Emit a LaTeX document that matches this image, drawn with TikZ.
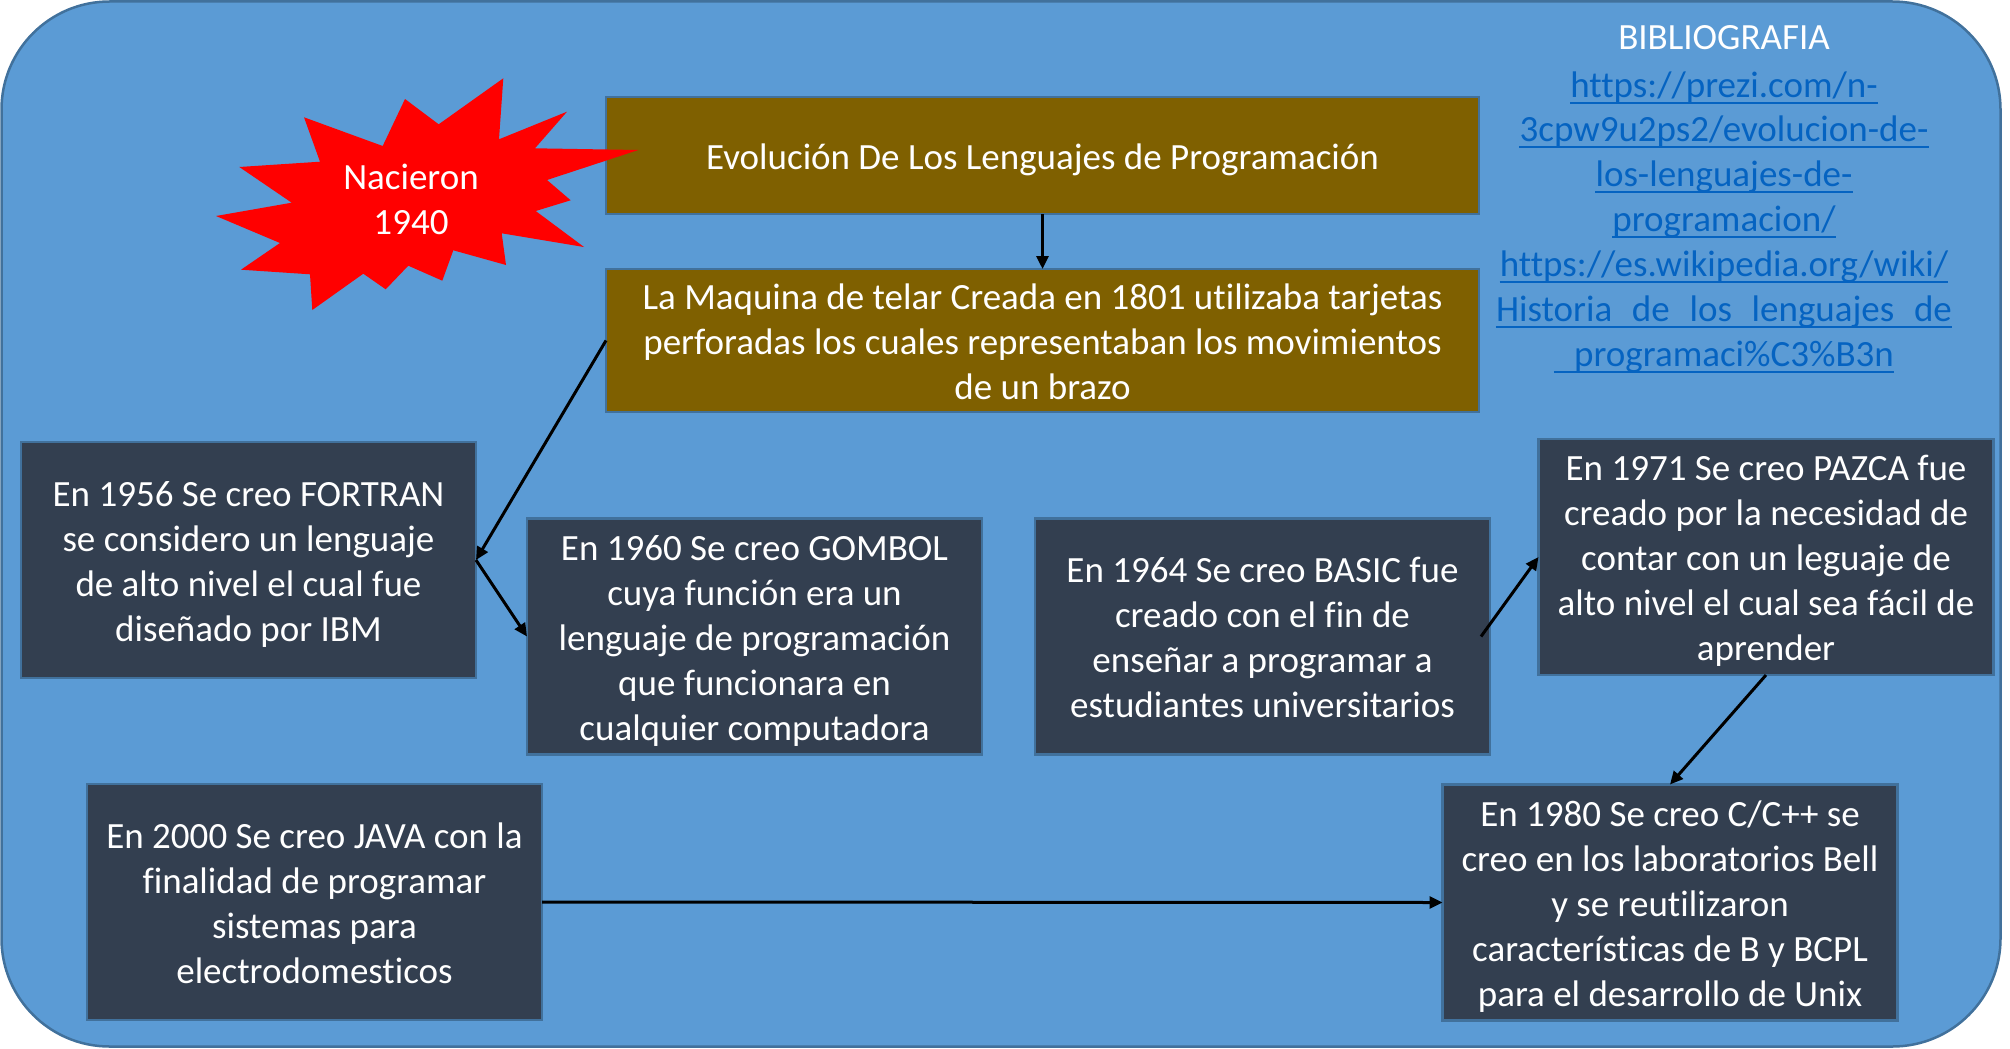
\documentclass[tikz,border=0pt]{standalone}
\usepackage{fontspec}
\setmainfont{Carlito}[Ligatures={NoCommon}]
\usetikzlibrary{arrows.meta}
\definecolor{bgblue}{HTML}{5B9BD5}
\definecolor{bgline}{HTML}{41719C}
\definecolor{brownbox}{HTML}{7F6000}
\definecolor{darkbox}{HTML}{333F50}
\definecolor{linkblue}{HTML}{0563C1}
\newcommand{\tst}{\rule{0pt}{36pt}}
\newcommand{\bst}{\rule[-9pt]{0pt}{9pt}}
\tikzset{
  txt/.style={font=\fontsize{37}{45}\selectfont},
  box/.style={txt, draw=bgline, line width=2.5pt, text=white, align=center, inner sep=0pt, outer sep=0pt},
  brownb/.style={box, fill=brownbox, minimum width=873pt},
  darkb/.style={box, fill=darkbox, minimum width=455pt, minimum height=236pt},
  conn/.style={line width=3pt, -{Triangle[length=13pt,width=12pt]}},
  linktxt/.style={txt, text=linkblue, inner sep=0pt, anchor=base},
  uline/.style={draw=linkblue, line width=2.2pt},
}
\begin{document}
\begin{tikzpicture}[x=1pt,y=-1pt]
\useasboundingbox (0,0) rectangle (2010,1049);
% background
\draw[fill=bgblue, draw=bgline, line width=2.5pt, rounded corners=108pt] (1.5,1.5) rectangle (2000.5,1046.5);
% boxes
\node[brownb, minimum height=117pt] (title) at (1042.5,155.5) {\tst Evolución De Los Lenguajes de Programación\bst};
\node[brownb, minimum height=143pt] (maq) at (1042.5,340.5) {\tst La Maquina de telar Creada en 1801 utilizaba tarjetas\\perforadas los cuales representaban los movimientos\\de un brazo\bst};
\node[darkb] (fortran) at (248.5,560) {\tst En 1956 Se creo FORTRAN\\se considero un lenguaje\\de alto nivel el cual fue\\diseñado por IBM\bst};
\node[darkb] (gombol) at (754.5,636.5) {\tst En 1960 Se creo GOMBOL\\cuya función era un\\lenguaje de programación\\que funcionara en\\cualquier computadora\bst};
\node[darkb] (basic) at (1262.5,636.5) {\tst En 1964 Se creo BASIC fue\\creado con el fin de\\enseñar a programar a\\estudiantes universitarios\bst};
\node[darkb] (pazca) at (1766,557) {\tst En 1971 Se creo PAZCA fue\\creado por la necesidad de\\contar con un leguaje de\\alto nivel el cual sea fácil de\\aprender\bst};
\node[darkb] (cpp) at (1670,902.5) {\tst En 1980 Se creo C/C++ se\\creo en los laboratorios Bell\\y se reutilizaron\\características de B y BCPL\\para el desarrollo de Unix\bst};
\node[darkb] (java) at (314.5,902) {\tst En 2000 Se creo JAVA con la\\finalidad de programar\\sistemas para\\electrodomesticos\bst};
% star (drawn over the title box)
\fill[red] (216,216) -- (291.7,202.7) -- (239.3,167) -- (320,161.7) -- (304,117.3) -- (382.7,146) -- (405,99) -- (438.7,124.3) -- (503.3,78.3) -- (499,139.3) -- (567,111.7) -- (535,148.3) -- (638.3,150) -- (547,180) -- (570.7,200.3) -- (535.7,211) -- (584,247) -- (501.7,233.3) -- (506,265) -- (453.3,250.3) -- (442.3,280.7) -- (408.3,265.7) -- (385.7,289.3) -- (363.3,273.7) -- (312.3,310) -- (310,274.3) -- (241,269.7) -- (280,243) -- cycle;
\node[txt, text=white, align=center, inner sep=0pt] (star) at (411,199) {Nacieron\\1940};
% connectors
\draw[conn] (title.south) -- (maq.north);
\draw[conn] (maq.west) -- (fortran.east);
\draw[conn] (fortran.east) -- (gombol.west);
\draw[conn] ([xshift=-9pt]basic.east) -- (pazca.west);
\draw[conn] (pazca.south) -- (cpp.north);
\draw[conn] (java.east) -- (cpp.west);
% bibliography
\node[txt, text=white, inner sep=0pt, anchor=base] (bib) at (1724,50) {BIBLIOGRAFIA};
\node[linktxt] (l1) at (1724,97) {https://prezi.com/n-};
\node[linktxt] (l2) at (1724,141) {3cpw9u2ps2/evolucion-de-};
\node[linktxt] (l3) at (1724,186) {los-lenguajes-de-};
\node[linktxt] (l4) at (1724,231) {programacion/};
\node[linktxt] (l5) at (1724,276) {https://es.wikipedia.org/wiki/};
\node[linktxt] (l6) at (1724,321) {\makebox[456pt][s]{Historia de los lenguajes de}};
\node[linktxt] (l7) at (1724,366) {\hspace*{20pt}programaci\%C3\%B3n};
\foreach \l in {l1,l2,l3,l4,l5,l6,l7}{
  \draw[uline] ([yshift=-6pt]\l.base west) -- ([yshift=-6pt]\l.base east);
}
\end{tikzpicture}
\end{document}
